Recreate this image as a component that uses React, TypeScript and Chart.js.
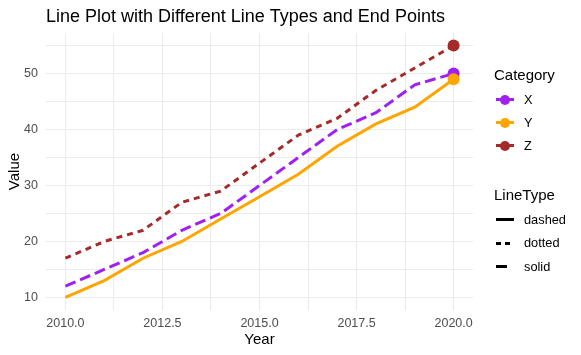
import React, { useEffect, useRef } from "react";
import { Chart, registerables } from "chart.js";

Chart.register(...registerables);

const FONT = "'Liberation Sans', Arial, sans-serif";

const years = [2010, 2011, 2012, 2013, 2014, 2015, 2016, 2017, 2018, 2019, 2020];
const valuesX = [12, 15, 18, 22, 25, 30, 35, 40, 43, 48, 50];
const valuesY = [10, 13, 17, 20, 24, 28, 32, 37, 41, 44, 49];
const valuesZ = [17, 20, 22, 27, 29, 34, 39, 42, 47, 51, 55];

const categories = ["X", "Y", "Z"];
const categoryColors = ["#A020F0", "#FFA500", "#A52A2A"];
const lineTypeLabels = ["dashed", "dotted", "solid"];

const xMajorTicks = [2010, 2012.5, 2015, 2017.5, 2020];
const yMajorTicks = [10, 20, 30, 40, 50];

const X_MIN = 2009.5;
const X_MAX = 2020.5;
const Y_MIN = 7.75;
const Y_MAX = 57.25;

function withMinor(major: number[], min: number, max: number) {
  const all: number[] = [...major];
  const step = major[1] - major[0];
  for (let i = 0; i < major.length - 1; i++) all.push((major[i] + major[i + 1]) / 2);
  const lo = major[0] - step / 2;
  const hi = major[major.length - 1] + step / 2;
  if (lo >= min) all.push(lo);
  if (hi <= max) all.push(hi);
  return all.sort((a, b) => a - b);
}

export default function App() {
  const ref = useRef<HTMLCanvasElement>(null);

  useEffect(() => {
    if (!ref.current) return;
    const last = years.length - 1;
    const pts = (vals: number[]) => years.map((yr, i) => ({ x: yr, y: vals[i] }));
    const lineStyle = [
      { data: valuesX, dash: [11, 5] },
      { data: valuesY, dash: [] as number[] },
      { data: valuesZ, dash: [6, 5] },
    ];
    const pointSets = [2, 1, 0].map((i) => ({
      label: categories[i] + " point",
      data: pts(lineStyle[i].data),
      showLine: false,
      pointRadius: (c: any) => (c.dataIndex === last ? 6 : 0),
      pointBackgroundColor: categoryColors[i],
      pointBorderWidth: 0,
      borderColor: categoryColors[i],
      backgroundColor: categoryColors[i],
    }));
    const lineSets = [2, 1, 0].map((i) => ({
      label: categories[i],
      data: pts(lineStyle[i].data),
      showLine: true,
      borderColor: categoryColors[i],
      backgroundColor: categoryColors[i],
      borderWidth: 3,
      borderDash: lineStyle[i].dash,
      pointRadius: 0,
      tension: 0,
      fill: false,
    }));

    const chart = new Chart(ref.current, {
      type: "scatter",
      data: { datasets: [...pointSets, ...lineSets] as any },
      options: {
        animation: false,
        responsive: false,
        maintainAspectRatio: false,
        layout: { padding: { left: 0, right: 108, top: 0, bottom: 0 } },
        plugins: {
          legend: { display: false },
          tooltip: { enabled: false },
          title: {
            display: true,
            text: "Line Plot with Different Line Types and End Points",
            align: "start",
            fullSize: false,
            color: "#000",
            font: { family: FONT, size: 18, weight: "normal" },
            padding: { top: 6, bottom: 5.4 },
          },
        },
        scales: {
          x: {
            type: "linear",
            min: X_MIN,
            max: X_MAX,
            afterBuildTicks: (s: any) => {
              s.ticks = withMinor(xMajorTicks, X_MIN, X_MAX).map((v) => ({ value: v }));
            },
            afterFit: (s: any) => {
              s.height = 45;
            },
            ticks: {
              autoSkip: false,
              maxRotation: 0,
              padding: 6,
              color: "#4D4D4D",
              font: { family: FONT, size: 12.5 },
              callback: (v: any) => (xMajorTicks.includes(Number(v)) ? Number(v).toFixed(1) : ""),
            },
            grid: { color: "#EBEBEB", lineWidth: 1, drawTicks: false },
            border: { display: false },
            title: {
              display: true,
              text: "Year",
              color: "#000",
              font: { family: FONT, size: 15 },
              padding: { top: 6, bottom: 6 },
            },
          },
          y: {
            type: "linear",
            min: Y_MIN,
            max: Y_MAX,
            afterBuildTicks: (s: any) => {
              s.ticks = withMinor(yMajorTicks, Y_MIN, Y_MAX).map((v) => ({ value: v }));
            },
            afterFit: (s: any) => {
              s.width = 46;
            },
            ticks: {
              autoSkip: false,
              padding: 8,
              color: "#4D4D4D",
              font: { family: FONT, size: 12.5 },
              callback: (v: any) => (yMajorTicks.includes(Number(v)) ? String(v) : ""),
            },
            grid: { color: "#EBEBEB", lineWidth: 1, drawTicks: false },
            border: { display: false },
            title: {
              display: true,
              text: "Value",
              color: "#000",
              font: { family: FONT, size: 15 },
              padding: { top: 6, bottom: 6 },
            },
          },
        },
      } as any,
    });
    return () => chart.destroy();
  }, []);

  const catY = [99.5, 122.5, 145.5];
  const ltY = [219.5, 243, 266.5];
  const text = (t: string, left: number, cy: number, size: number) => (
    <div
      key={t + cy}
      style={{
        position: "absolute",
        left,
        top: cy - 10,
        height: 20,
        lineHeight: "20px",
        fontFamily: FONT,
        fontSize: size,
        color: "#000",
        whiteSpace: "nowrap",
      }}
    >
      {t}
    </div>
  );
  const bar = (left: number, width: number, cy: number, color: string, key: string) => (
    <div
      key={key}
      style={{ position: "absolute", left, width, top: cy - 1.5, height: 3, background: color }}
    />
  );

  return (
    <div style={{ position: "absolute", left: 0, top: 0, width: 581, height: 355, background: "#fff", overflow: "hidden" }}>
      <canvas ref={ref} width={581} height={355} style={{ display: "block" }} />
      {text("Category", 494, 75, 15)}
      {categories.map((c, i) => (
        <React.Fragment key={c}>
          {bar(496, 18, catY[i], categoryColors[i], "l" + c)}
          <div
            style={{
              position: "absolute",
              left: 500,
              top: catY[i] - 5,
              width: 10,
              height: 10,
              borderRadius: "50%",
              background: categoryColors[i],
            }}
          />
          {text(c, 524, catY[i], 12.8)}
        </React.Fragment>
      ))}
      {text("LineType", 494, 195, 15)}
      {bar(496, 18, ltY[0], "#000", "lt0")}
      {bar(496, 5, ltY[1], "#000", "lt1a")}
      {bar(505, 5, ltY[1], "#000", "lt1b")}
      {bar(496, 11, ltY[2], "#000", "lt2")}
      {lineTypeLabels.map((l, i) => text(l, 524, ltY[i], 12.8))}
    </div>
  );
}
